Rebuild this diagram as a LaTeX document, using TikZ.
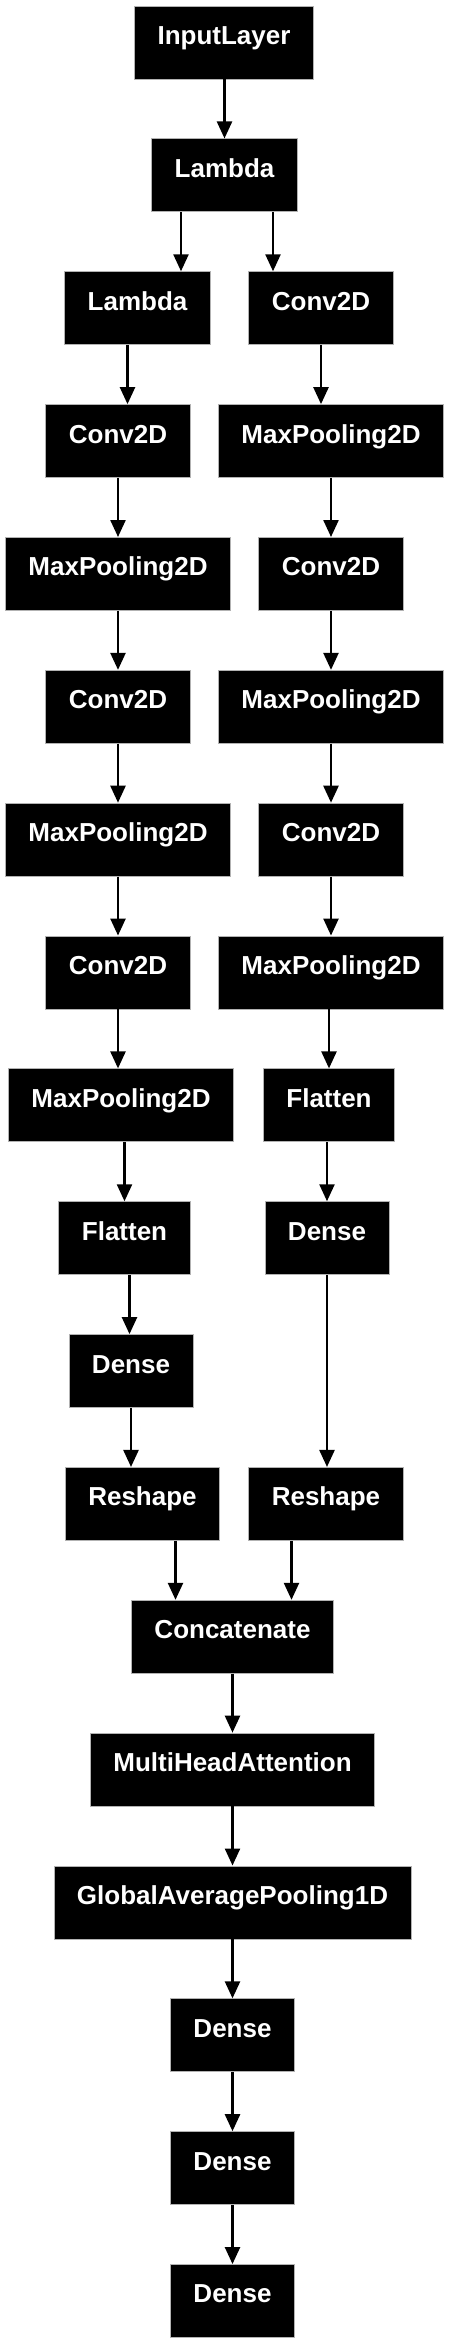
\documentclass[tikz,border=0pt]{standalone}
\usepackage{fontspec}
\setmainfont{Liberation Sans}
\usetikzlibrary{arrows.meta}
\tikzset{
    layer/.style={rectangle, draw=gray!60, line width=0.8pt, fill=black, text=white, inner xsep=23pt, inner ysep=0pt, minimum height=73pt, text height=0.7em, text depth=0.3em, font=\fontsize{26pt}{30pt}\selectfont\bfseries},
    link/.style={-{Triangle[length=17pt, width=15pt]}, line width=2.4pt, black}
}
\begin{document}
\begin{tikzpicture}[x=1pt, y=-132.85pt]
    \useasboundingbox (0,-0.3199) rectangle (451,17.3391);

    % Stem
    \node[layer] (input) at (224,0) {InputLayer};
    \node[layer] (lambda) at (224.5,1) {Lambda};

    % Left branch
    \node[layer] (lambdaL) at (137.5,2) {Lambda};
    \node[layer] (convL1) at (118,3) {Conv2D};
    \node[layer] (poolL1) at (118,4) {MaxPooling2D};
    \node[layer] (convL2) at (118,5) {Conv2D};
    \node[layer] (poolL2) at (118,6) {MaxPooling2D};
    \node[layer] (convL3) at (118,7) {Conv2D};
    \node[layer] (poolL3) at (121,8) {MaxPooling2D};
    \node[layer] (flatL) at (124.5,9) {Flatten};
    \node[layer] (denseL) at (131,10) {Dense};
    \node[layer] (reshapeL) at (142.5,11) {Reshape};

    % Right branch
    \node[layer] (convR1) at (321,2) {Conv2D};
    \node[layer] (poolR1) at (331,3) {MaxPooling2D};
    \node[layer] (convR2) at (331,4) {Conv2D};
    \node[layer] (poolR2) at (331,5) {MaxPooling2D};
    \node[layer] (convR3) at (331,6) {Conv2D};
    \node[layer] (poolR3) at (331,7) {MaxPooling2D};
    \node[layer] (flatR) at (329,8) {Flatten};
    \node[layer] (denseR) at (327,9) {Dense};
    \node[layer] (reshapeR) at (326,11) {Reshape};

    % Head
    \node[layer] (concat) at (232.5,12) {Concatenate};
    \node[layer] (mha) at (232.5,13) {MultiHeadAttention};
    \node[layer] (gap) at (232.5,14) {GlobalAveragePooling1D};
    \node[layer] (dense1) at (232.5,15) {Dense};
    \node[layer] (dense2) at (232.5,16) {Dense};
    \node[layer] (dense3) at (232.5,17) {Dense};

    \draw[link] (input.south -| 224.5,0) -- (lambda.north -| 224.5,0);
    \draw[link] (lambda.south -| 181,0) -- (lambdaL.north -| 181,0);
    \draw[link] (lambda.south -| 273,0) -- (convR1.north -| 273,0);

    \draw[link] (lambdaL.south -| 127.5,0) -- (convL1.north -| 127.5,0);
    \draw[link] (convL1.south) -- (poolL1.north);
    \draw[link] (poolL1.south) -- (convL2.north);
    \draw[link] (convL2.south) -- (poolL2.north);
    \draw[link] (poolL2.south) -- (convL3.north);
    \draw[link] (convL3.south) -- (poolL3.north -| 118,0);
    \draw[link] (poolL3.south -| 124.5,0) -- (flatL.north);
    \draw[link] (flatL.south -| 129.5,0) -- (denseL.north -| 129.5,0);
    \draw[link] (denseL.south) -- (reshapeL.north -| 131,0);

    \draw[link] (convR1.south) -- (poolR1.north -| 321,0);
    \draw[link] (poolR1.south) -- (convR2.north);
    \draw[link] (convR2.south) -- (poolR2.north);
    \draw[link] (poolR2.south) -- (convR3.north);
    \draw[link] (convR3.south) -- (poolR3.north);
    \draw[link] (poolR3.south -| 329,0) -- (flatR.north);
    \draw[link] (flatR.south -| 327,0) -- (denseR.north);
    \draw[link] (denseR.south) -- (reshapeR.north -| 327,0);

    \draw[link] (reshapeL.south -| 175.5,0) -- (concat.north -| 175.5,0);
    \draw[link] (reshapeR.south -| 291.5,0) -- (concat.north -| 291.5,0);
    \draw[link] (concat.south) -- (mha.north);
    \draw[link] (mha.south) -- (gap.north);
    \draw[link] (gap.south) -- (dense1.north);
    \draw[link] (dense1.south) -- (dense2.north);
    \draw[link] (dense2.south) -- (dense3.north);
\end{tikzpicture}
\end{document}
